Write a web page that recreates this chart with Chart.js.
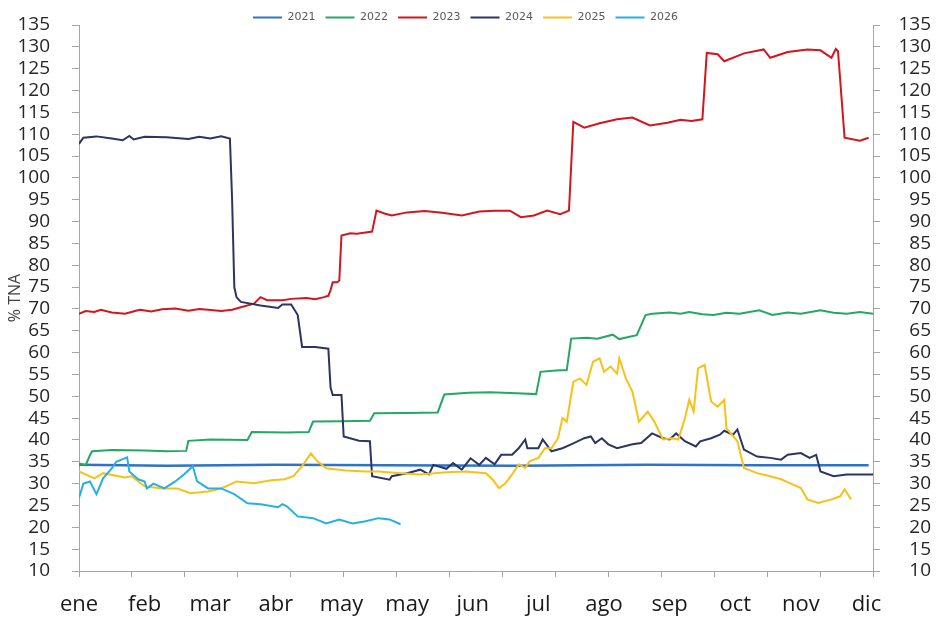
<!DOCTYPE html>
<html>
<head>
<meta charset="utf-8">
<script src="https://cdn.jsdelivr.net/npm/chart.js@4.4.1/dist/chart.umd.min.js"></script>
<style>
  html, body { margin: 0; padding: 0; background: #fff; }
  #wrap { width: 938px; height: 618px; }
</style>
</head>
<body>
<div id="wrap"><canvas id="chart" width="938" height="618"></canvas></div>
<script>
// x axis labels (one every 30 "days"), y axis range
const monthLabels = ["ene", "feb", "mar", "abr", "may", "may", "jun", "jul", "ago", "sep", "oct", "nov", "dic"];
const xMax = 363;
const yMin = 10;
const yMax = 135;
const yStep = 5;

const seriesNames = ["2021", "2022", "2023", "2024", "2025", "2026"];
const seriesColors = ["#2e73c6", "#25a862", "#d4151f", "#2b3562", "#f6c21a", "#25b0e4"];

// day position and % TNA
const days2021 = [0, 40, 90, 140, 200, 260, 310, 361];
const vals2021 = [34.3, 34.1, 34.3, 34.2, 34.1, 34.3, 34.2, 34.2];

const days2022 = [0, 3, 5, 6, 15, 30, 40, 49, 50, 60, 77, 79, 95, 105, 107, 120, 133, 135, 150, 164, 167, 178, 188, 200, 209, 211, 218, 223, 225, 232, 237, 244, 247, 255, 259, 262, 270, 275, 279, 285, 290, 296, 302, 311, 317, 324, 330, 339, 345, 351, 357, 363];
const vals2022 = [34.6, 34.2, 36.5, 37.4, 37.7, 37.6, 37.4, 37.5, 39.8, 40.1, 40, 41.8, 41.7, 41.8, 44.2, 44.3, 44.4, 46.1, 46.2, 46.3, 50.4, 50.8, 50.9, 50.7, 50.5, 55.6, 55.9, 56, 63.2, 63.4, 63.2, 64.1, 63.1, 64, 68.6, 68.9, 69.2, 68.9, 69.3, 68.8, 68.6, 69.1, 68.9, 69.7, 68.6, 69.2, 68.9, 69.7, 69.1, 68.9, 69.3, 68.9];

const days2023 = [0, 3, 7, 10, 15, 21, 26, 28, 33, 38, 44, 50, 55, 59, 65, 70, 74, 80, 83, 86, 93, 97, 104, 108, 112, 114, 115, 116, 118, 119, 120, 124, 127, 131, 134, 136, 140, 143, 150, 158, 166, 175, 183, 190, 197, 202, 208, 214, 220, 224, 226, 231, 238, 246, 253, 261, 269, 275, 280, 285, 287, 292, 295, 304, 313, 316, 324, 333, 339, 344, 346, 347, 350, 357, 361];
const vals2023 = [68.9, 69.5, 69.3, 69.8, 69.2, 68.9, 69.6, 69.8, 69.4, 69.9, 70.1, 69.6, 70, 69.8, 69.5, 69.8, 70.4, 71.2, 72.7, 72, 72, 72.3, 72.5, 72.2, 72.7, 73, 74.3, 76.1, 76.1, 76.5, 86.8, 87.3, 87.2, 87.5, 87.7, 92.5, 91.8, 91.4, 92.1, 92.4, 92, 91.4, 92.3, 92.5, 92.5, 91, 91.4, 92.5, 91.7, 92.5, 112.8, 111.5, 112.5, 113.4, 113.8, 112, 112.6, 113.3, 113, 113.4, 128.6, 128.3, 126.7, 128.5, 129.4, 127.5, 128.8, 129.4, 129.2, 127.5, 129.5, 129, 109.2, 108.5, 109.2];

const days2024 = [0, 2, 8, 15, 20, 23, 25, 30, 40, 50, 55, 60, 65, 69, 70, 71, 72, 74, 83, 91, 93, 97, 100, 102, 108, 114, 115, 116, 120, 121, 128, 133, 134, 142, 143, 150, 156, 160, 162, 168, 171, 175, 179, 183, 186, 190, 193, 198, 201, 204, 205, 210, 212, 216, 221, 225, 231, 234, 236, 239, 242, 246, 253, 257, 262, 267, 270, 273, 277, 282, 284, 289, 293, 295, 299, 301, 304, 310, 316, 321, 324, 330, 334, 337, 339, 345, 351, 357, 363];
const vals2024 = [107.8, 109.2, 109.5, 109, 108.6, 109.6, 108.8, 109.4, 109.3, 108.9, 109.4, 109, 109.5, 109, 95, 75, 72.7, 71.6, 70.8, 70.2, 71, 71, 68.6, 61.3, 61.3, 60.9, 52, 50.3, 50.3, 40.8, 39.8, 39.7, 31.7, 30.9, 31.7, 32.4, 33.2, 32.1, 34.3, 33.4, 34.7, 33.2, 35.8, 34.3, 35.9, 34.4, 36.6, 36.6, 38.1, 40.1, 38.1, 38.1, 40.1, 37.4, 38.1, 39, 40.4, 40.8, 39.3, 40.4, 39, 38.1, 39, 39.3, 41.5, 40.4, 40.1, 41.5, 39.7, 38.5, 39.7, 40.4, 41.2, 42.1, 41.2, 42.4, 37.8, 36.2, 35.9, 35.5, 36.6, 37, 35.9, 36.6, 32.8, 31.7, 32.1, 32.1, 32.1];

const days2025 = [0, 7, 11, 21, 24, 30, 38, 45, 51, 59, 65, 72, 80, 88, 94, 98, 102, 106, 109, 113, 122, 131, 137, 147, 156, 168, 177, 186, 189, 192, 195, 198, 201, 204, 206, 210, 213, 216, 219, 221, 223, 226, 229, 232, 235, 238, 240, 243, 246, 247, 250, 253, 256, 260, 263, 267, 271, 274, 277, 279, 281, 283, 286, 289, 292, 295, 296, 301, 304, 310, 316, 321, 325, 330, 333, 338, 344, 348, 350, 353];
const vals2025 = [32.8, 31.2, 32.4, 31.4, 31.7, 29.4, 28.9, 28.9, 27.8, 28.2, 28.9, 30.5, 30.1, 30.8, 31, 31.7, 34, 36.9, 35.1, 33.5, 33, 32.8, 32.8, 32.4, 32.1, 32.6, 32.8, 32.4, 31, 29, 30.1, 32.1, 34.4, 33.6, 35.1, 35.9, 38.1, 38.1, 40.4, 45, 44.2, 53.3, 54.1, 52.6, 57.9, 58.7, 55.6, 56.8, 55.2, 58.7, 54.1, 51.1, 44.2, 46.5, 44.2, 40.1, 40.4, 40.1, 45, 49.2, 46.5, 56.4, 57.2, 48.8, 47.6, 49.2, 42.7, 39.7, 33.6, 32.4, 31.7, 31, 30.1, 29, 26.4, 25.6, 26.4, 27.1, 28.7, 26.4];

const days2026 = [0, 2, 5, 8, 11, 15, 17, 22, 23, 27, 30, 31, 34, 39, 44, 48, 52, 54, 59, 65, 71, 77, 83, 91, 93, 95, 100, 107, 113, 119, 125, 131, 137, 142, 147];
const vals2026 = [26.7, 30, 30.5, 27.6, 31.2, 33.5, 35, 36, 32.8, 31, 30.5, 28.9, 30, 28.9, 30.5, 32.1, 34, 30.5, 28.9, 28.9, 27.6, 25.5, 25.3, 24.6, 25.3, 24.8, 22.5, 22.1, 20.9, 21.8, 20.9, 21.4, 22.1, 21.8, 20.7];

const allDays = [days2021, days2022, days2023, days2024, days2025, days2026];
const allVals = [vals2021, vals2022, vals2023, vals2024, vals2025, vals2026];

const axisGray = "#a6a6a6";

function toPoints(days, vals) {
  return days.map((d, i) => ({ x: d, y: vals[i] }));
}

// keep the y labels from pushing the plot area in
function fixYAxis(width) {
  return (axis) => {
    axis.width = width;
    axis.paddingTop = 10;
    axis.paddingBottom = 10;
  };
}

const datasets = seriesNames.map((name, i) => ({
  label: name,
  data: toPoints(allDays[i], allVals[i]),
  borderColor: seriesColors[i],
  backgroundColor: seriesColors[i],
  borderWidth: i === 0 ? 2.5 : 2,
  pointRadius: 0,
  fill: false,
  tension: 0,
  order: seriesNames.length - i, // later years drawn on top
}));

new Chart(document.getElementById("chart"), {
  type: "line",
  data: { datasets: datasets },
  options: {
    responsive: false,
    animation: false,
    devicePixelRatio: 1,
    layout: { padding: { top: 2, left: 0, bottom: 0, right: 7 } },
    plugins: {
      tooltip: { enabled: false },
      legend: {
        position: "top",
        maxHeight: 23,
        labels: {
          boxWidth: 29,
          boxHeight: 2,
          padding: 10,
          color: "#595959",
          font: { family: "DejaVu Sans", size: 11 },
          sort: (a, b) => a.datasetIndex - b.datasetIndex,
          generateLabels: (chart) =>
            Chart.defaults.plugins.legend.labels.generateLabels(chart).map((l) =>
              Object.assign(l, { fillStyle: l.strokeStyle, lineWidth: 0 })
            ),
        },
      },
    },
    scales: {
      x: {
        type: "linear",
        min: 0,
        max: xMax,
        afterFit: (axis) => { axis.height = 47; },
        afterBuildTicks: (axis) => {
          const t = monthLabels.map((m, i) => ({ value: i * 30 }));
          // 15 evenly spaced tick marks across the axis
          for (let k = 1; k <= 15; k++) t.push({ value: Math.min(xMax, (k * xMax) / 15) });
          t.sort((a, b) => a.value - b.value);
          axis.ticks = t;
        },
        ticks: {
          autoSkip: false,
          maxRotation: 0,
          padding: 15,
          color: "#1a1a1a",
          font: { family: "Open Sans", size: 22 },
          callback: (v) => (v % 30 === 0 ? monthLabels[v / 30] : ""),
        },
        grid: {
          drawOnChartArea: false,
          tickLength: 6,
          tickColor: (ctx) =>
            ctx.tick && ctx.tick.value % 30 === 0 && ctx.tick.value !== 0 ? "rgba(0,0,0,0)" : axisGray,
        },
        border: { color: axisGray },
      },
      y: {
        type: "linear",
        position: "left",
        min: yMin,
        max: yMax,
        afterFit: fixYAxis(79),
        ticks: {
          stepSize: yStep,
          autoSkip: false,
          padding: 22,
          color: "#262626",
          font: { family: "Open Sans", size: 19 },
        },
        grid: { drawOnChartArea: false, tickLength: 7, tickColor: axisGray },
        border: { color: axisGray },
        title: {
          display: true,
          text: "% TNA",
          color: "#404040",
          font: { family: "Open Sans", size: 16 },
          padding: { top: 6, bottom: 0 },
        },
      },
      y2: {
        type: "linear",
        position: "right",
        min: yMin,
        max: yMax,
        afterFit: fixYAxis(58),
        ticks: {
          stepSize: yStep,
          autoSkip: false,
          padding: 18,
          crossAlign: "far",
          color: "#262626",
          font: { family: "Open Sans", size: 19 },
        },
        grid: { drawOnChartArea: false, tickLength: 7, tickColor: axisGray },
        border: { color: axisGray },
      },
    },
  },
});
</script>
</body>
</html>
